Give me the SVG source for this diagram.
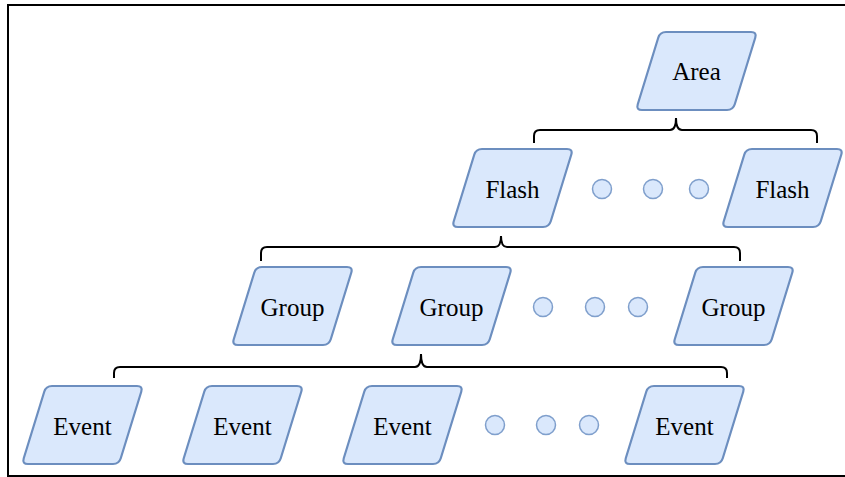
<svg xmlns="http://www.w3.org/2000/svg" xmlns:xlink="http://www.w3.org/1999/xlink" width="845" height="477" viewBox="0 0 845 477">
  <style>
    .box { fill: #dae8fc; stroke: #6c8ebf; stroke-width: 2.2; }
    .dot { fill: #dae8fc; stroke: #7f9fcc; stroke-width: 1.5; }
    .label { font-family: "Liberation Serif", "Times New Roman", serif; font-size: 25px; fill: #000; text-anchor: middle; }
    .brace { fill: none; stroke: #000; stroke-width: 2; stroke-linecap: butt; }
    .frame { fill: none; stroke: #000; stroke-width: 2; }
  </style>
  <defs>
    <!-- rounded parallelogram, origin at bottom-left x / top y -->
    <path id="para" d="M30,0 H115 Q121,0 119.24,5.74 L98.76,72.26 Q97,78 91,78 H6 Q0,78 1.76,72.26 L22.24,5.74 Q24,0 30,0 Z"/>
  </defs>

  <rect width="845" height="477" fill="#fff"/>
  <path class="frame" d="M846,5 H8 V476 H846"/>

  <g id="connectors">
    <!-- Area -> Flash -->
    <path class="brace" d="M534,143 V136 Q534,130 540,130 H670 Q676,130 676,118 Q676,130 682,130 H811 Q817,130 817,136 V143"/>
    <!-- Flash -> Group -->
    <path class="brace" d="M261,261 V253 Q261,247 267,247 H495 Q501,247 501,236 Q501,247 507,247 H734 Q740,247 740,253 V261"/>
    <!-- Group -> Event -->
    <path class="brace" d="M114,378 V373 Q114,367 120,367 H415 Q421,367 421,354 Q421,367 427,367 H721 Q727,367 727,373 V378"/>
  </g>

  <g id="area">
    <use xlink:href="#para" class="box" x="636" y="32"/>
    <text class="label" x="696.5" y="80">Area</text>
  </g>

  <g id="flash-1">
    <use xlink:href="#para" class="box" x="452" y="149"/>
    <text class="label" x="512.5" y="198">Flash</text>
  </g>
  <g id="flash-dots">
    <circle class="dot" cx="602" cy="189" r="9.5"/>
    <circle class="dot" cx="653" cy="189" r="9.5"/>
    <circle class="dot" cx="699" cy="189" r="9.5"/>
  </g>
  <g id="flash-n">
    <use xlink:href="#para" class="box" x="722" y="149"/>
    <text class="label" x="782.5" y="198">Flash</text>
  </g>

  <g id="group-1">
    <use xlink:href="#para" class="box" x="232" y="267"/>
    <text class="label" x="292.5" y="316">Group</text>
  </g>
  <g id="group-2">
    <use xlink:href="#para" class="box" x="391" y="267"/>
    <text class="label" x="451.5" y="316">Group</text>
  </g>
  <g id="group-dots">
    <circle class="dot" cx="543" cy="307" r="9.5"/>
    <circle class="dot" cx="595" cy="307" r="9.5"/>
    <circle class="dot" cx="638" cy="307" r="9.5"/>
  </g>
  <g id="group-n">
    <use xlink:href="#para" class="box" x="673" y="267"/>
    <text class="label" x="733.5" y="316">Group</text>
  </g>

  <g id="event-1">
    <use xlink:href="#para" class="box" x="22" y="386"/>
    <text class="label" x="82.5" y="435">Event</text>
  </g>
  <g id="event-2">
    <use xlink:href="#para" class="box" x="182" y="386"/>
    <text class="label" x="242.5" y="435">Event</text>
  </g>
  <g id="event-3">
    <use xlink:href="#para" class="box" x="342" y="386"/>
    <text class="label" x="402.5" y="435">Event</text>
  </g>
  <g id="event-dots">
    <circle class="dot" cx="495" cy="425" r="9.5"/>
    <circle class="dot" cx="546" cy="425" r="9.5"/>
    <circle class="dot" cx="589" cy="425" r="9.5"/>
  </g>
  <g id="event-n">
    <use xlink:href="#para" class="box" x="624" y="386"/>
    <text class="label" x="684.5" y="435">Event</text>
  </g>
</svg>
